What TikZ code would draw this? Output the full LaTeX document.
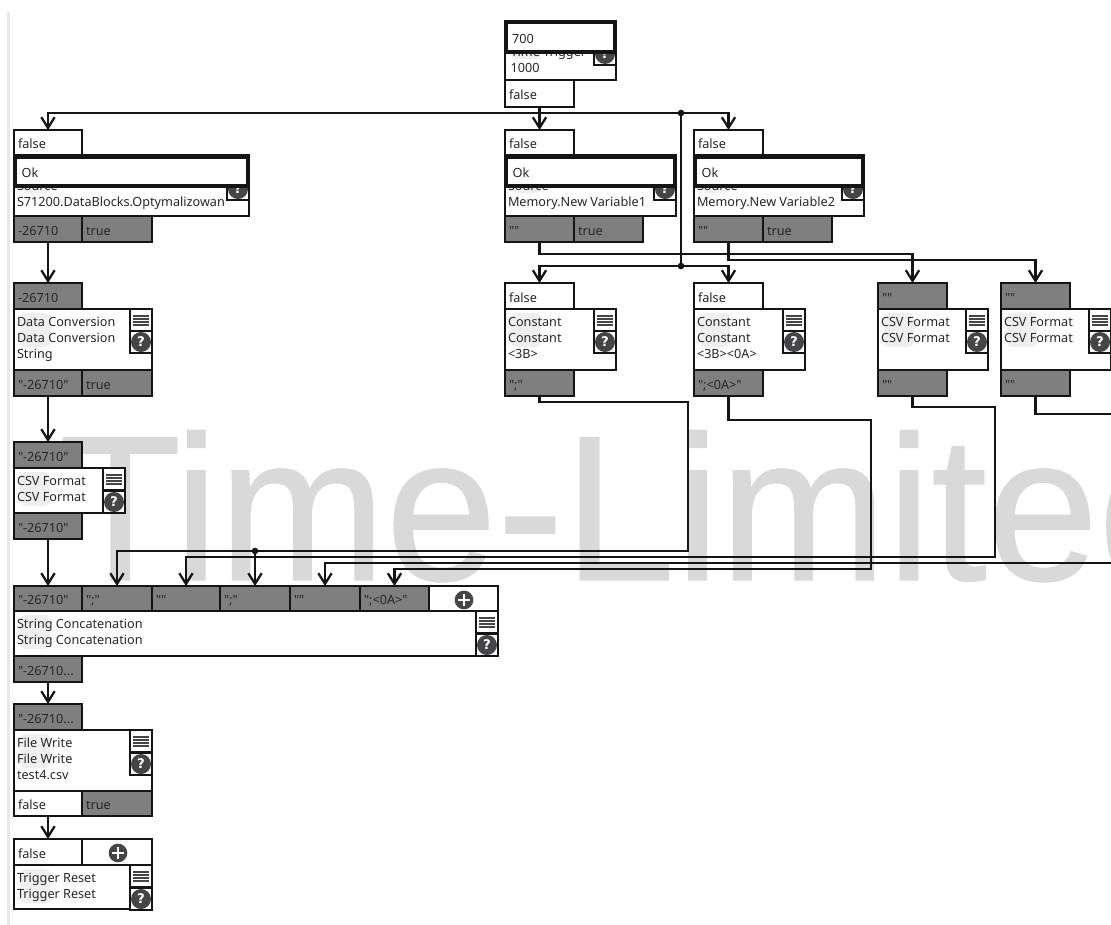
\documentclass[tikz,border=0pt]{standalone}
\usepackage{fontspec}
\newfontfamily\uifont{Noto Sans}
\newfontfamily\wmfont[FakeBold=0.6]{Liberation Sans}
\newfontfamily\hpfont{DejaVu Sans}
\usetikzlibrary{arrows.meta,calc}
\definecolor{ink}{HTML}{141414}
\definecolor{txt}{HTML}{262626}
\definecolor{portgrey}{HTML}{7F7F7F}
\definecolor{wmark}{HTML}{D9D9D9}
\definecolor{icon}{HTML}{454548}
\definecolor{ghost}{HTML}{EFEFEF}
\tikzset{
  pbox/.style={draw=ink,line width=2pt,rectangle,inner xsep=3pt,inner ysep=0pt,outer sep=0pt,
     font=\uifont\fontsize{9.5}{12}\selectfont,text=txt,text height=9pt,text depth=0pt},
  wport/.style={pbox,fill=white},
  gport/.style={pbox,fill=portgrey},
  bodybox/.style={draw=ink,line width=2pt,rectangle,fill=white,inner sep=0pt,outer sep=0pt},
  overlay/.style={pbox,fill=white,line width=3pt},
  lbl/.style={inner sep=0pt,outer sep=0pt,align=left,anchor=north west,text=txt,
     font=\uifont\fontsize{9.5}{12}\selectfont},
  hcirc/.style={circle,fill=icon,text=white,inner sep=0pt,minimum size=15pt,
     font=\hpfont\bfseries\fontsize{10}{10}\selectfont},
  pcirc/.style={circle,fill=icon,inner sep=0pt,minimum size=14pt},
  jdot/.style={circle,fill=ink,inner sep=0pt,minimum size=5pt},
  wire/.style={draw=ink,line width=1.9pt,line join=miter},
  arr/.style={wire,-{Straight Barb[length=8pt,width=10pt,line width=1.7pt]}},
  wmtext/.style={text=wmark,inner sep=0pt,outer sep=0pt,anchor=base west,
     font=\wmfont\fontsize{155}{155}\selectfont},
}
\newcommand\bx[7]{%
  \pgfmathsetmacro\bw{(#4-(#2))*0.75}%
  \pgfmathsetmacro\bh{(#5-(#3))*0.75}%
  \pgfmathsetmacro\bt{\bw-6}%
  \node[#6,minimum width=\bw pt,minimum height=\bh pt] (#1) at ({(#2+#4)/2},{(#3+#5)/2}) {\makebox[\bt pt][l]{#7}};}
\newcommand\bd[6]{%
  \pgfmathsetmacro\bw{(#4-(#2))*0.75}%
  \pgfmathsetmacro\bh{(#5-(#3))*0.75}%
  \node[bodybox,minimum width=\bw pt,minimum height=\bh pt] (#1) at ({(#2+#4)/2},{(#3+#5)/2}) {};
  \fill[ghost,rounded corners=4pt] ({#2+6},{#3+4}) rectangle ({#2+36},{#3+38});
  \node[lbl] (#1L) at ({#2+3},{#3+8}) {#6};}
\newcommand\mn[3]{%
  \bx{#1}{#2}{#3}{#2+22}{#3+22}{wport}{}
  \foreach \d in {7,10,13,16} \draw[icon,line width=.8pt] ({#2+3},{#3+\d}) -- ({#2+19},{#3+\d});}
\newcommand\hp[3]{%
  \bx{#1}{#2}{#3}{#2+22}{#3+22}{wport}{}
  \node[hcirc] (#1C) at ({#2+11},{#3+11}) {?};}
\newcommand\pl[2]{\node[pcirc] (#1) at #2 {};
  \draw[white,line width=2pt] ($(#1.center)+(-6,0)$) -- ($(#1.center)+(6,0)$);
  \draw[white,line width=2pt] ($(#1.center)+(0,-6)$) -- ($(#1.center)+(0,6)$);}
\begin{document}
\begin{tikzpicture}[x=0.75pt,y=-0.75pt]
\useasboundingbox (0,0) rectangle (1111,925);
\clip (0,0) rectangle (1111,925);
\fill[white] (0,0) rectangle (1111,925);
\fill[black!9] (7,12) rectangle (9.5,925);
\node[wmtext] (wm) at (59,580) {\scalebox{.97}[1]{Time-Limited}};

% trigger
\bd{trig}{505}{21}{616}{80}{\phantom{T}\\[2pt]\hspace{2pt}Time Trigger\\\hspace{2pt}1000}
\hp{trigH}{594}{43}
\bx{trigOv}{505.5}{22}{614.5}{52}{overlay}{\hspace{2pt}700}
\bx{trigOut}{505}{80}{574}{107}{wport}{false}

% source 1
\bx{s1In}{14}{130}{82}{155}{wport}{false}
\bd{s1}{14}{155}{249}{216}{\phantom{T}\\[2pt]Source\\S71200.DataBlocks.Optymalizowan}
\hp{s1H}{227}{178}
\bx{s1Ov}{15}{157}{248}{186}{overlay}{\hspace{2pt}Ok}
\bx{s1Out}{14}{216}{82}{242}{gport}{-26710}
\bx{s1Ok}{82}{216}{152}{242}{gport}{true}

% source 2
\bx{s2In}{505}{130}{574}{155}{wport}{false}
\bd{s2}{505}{155}{676}{216}{\phantom{T}\\[2pt]Source\\Memory.New Variable1}
\hp{s2H}{654}{178}
\bx{s2Ov}{506}{157}{675}{186}{overlay}{\hspace{2pt}Ok}
\bx{s2Out}{505}{216}{574}{242}{gport}{""}
\bx{s2Ok}{574}{216}{643}{242}{gport}{true}

% source 3
\bx{s3In}{694}{130}{763}{155}{wport}{false}
\bd{s3}{694}{155}{864}{216}{\phantom{T}\\[2pt]Source\\Memory.New Variable2}
\hp{s3H}{842}{178}
\bx{s3Ov}{695}{157}{863}{186}{overlay}{\hspace{2pt}Ok}
\bx{s3Out}{694}{216}{763}{242}{gport}{""}
\bx{s3Ok}{763}{216}{832}{242}{gport}{true}

% data conversion
\bx{dcIn}{14}{283}{82}{309}{gport}{-26710}
\bd{dc}{14}{309}{152}{370}{Data Conversion\\Data Conversion\\String}
\mn{dcM}{130}{309}\hp{dcH}{130}{331}
\bx{dcOut}{14}{370}{82}{396}{gport}{"-26710"}
\bx{dcOk}{82}{370}{152}{396}{gport}{true}

% csv left
\bx{cfIn}{14}{442}{82}{468}{gport}{"-26710"}
\bd{cf}{14}{468}{125}{513}{CSV Format\\CSV Format}
\mn{cfM}{103}{468}\hp{cfH}{103}{491}
\bx{cfOut}{14}{513}{82}{539}{gport}{"-26710"}

% constants
\bx{k1In}{505}{283}{574}{309}{wport}{false}
\bd{k1}{505}{309}{616}{370}{Constant\\Constant\\<3B>}
\mn{k1M}{594}{309}\hp{k1H}{594}{331}
\bx{k1Out}{505}{370}{574}{396}{gport}{";"}

\bx{k2In}{694}{283}{763}{309}{wport}{false}
\bd{k2}{694}{309}{805}{370}{Constant\\Constant\\<3B><0A>}
\mn{k2M}{783}{309}\hp{k2H}{783}{331}
\bx{k2Out}{694}{370}{763}{396}{gport}{";<0A>"}

% csv right
\bx{c1In}{878}{283}{947}{309}{gport}{""}
\bd{c1}{878}{309}{988}{370}{CSV Format\\CSV Format}
\mn{c1M}{966}{309}\hp{c1H}{966}{331}
\bx{c1Out}{878}{370}{947}{396}{gport}{""}

\bx{c2In}{1001}{283}{1070}{309}{gport}{""}
\bd{c2}{1001}{309}{1111}{370}{CSV Format\\CSV Format}
\mn{c2M}{1089}{309}\hp{c2H}{1089}{331}
\bx{c2Out}{1001}{370}{1070}{396}{gport}{""}

% concatenation
\bx{sc1}{14}{586}{82}{611}{gport}{"-26710"}
\bx{sc2}{82}{586}{152}{611}{gport}{";"}
\bx{sc3}{152}{586}{220}{611}{gport}{""}
\bx{sc4}{220}{586}{290}{611}{gport}{";"}
\bx{sc5}{290}{586}{360}{611}{gport}{""}
\bx{sc6}{360}{586}{429}{611}{gport}{";<0A>"}
\bx{sc7}{429}{586}{498}{611}{wport}{}
\pl{scP}{(464,600)}
\bd{sc}{14}{611}{498}{656}{String Concatenation\\String Concatenation}
\mn{scM}{476}{611}\hp{scH}{476}{634}
\bx{scOut}{14}{656}{82}{682}{gport}{"-26710...}

% file write
\bx{fwIn}{14}{704}{82}{730}{gport}{"-26710...}
\bd{fw}{14}{730}{152}{791}{File Write\\File Write\\test4.csv}
\mn{fwM}{130}{730}\hp{fwH}{130}{753}
\bx{fwOut}{14}{791}{82}{816}{wport}{false}
\bx{fwOk}{82}{791}{152}{816}{gport}{true}

% trigger reset
\bx{trIn}{14}{839}{82}{865}{wport}{false}
\bx{trAdd}{82}{839}{152}{865}{wport}{}
\pl{trP}{(118,853)}
\bd{tr}{14}{865}{152}{909}{Trigger Reset\\Trigger Reset}
\mn{trM}{130}{865}\hp{trH}{130}{888}

% junctions and free ends
\node[jdot] (jA) at (681,113) {};
\node[jdot] (jB) at (681,266) {};
\node[jdot] (jC) at (255,551) {};
\coordinate (busT) at (539.5,113);
\coordinate (offA) at (1116,414);
\coordinate (offB) at (1116,563);

% wires
\draw[wire] (trigOut.south) -- (busT);
\draw[arr] (busT) -| (s1In.north);
\draw[arr] (busT) -- (s2In.north);
\draw[arr] (busT) -| (s3In.north);
\draw[wire] (jA.center) -- (jB.center);
\draw[arr] (jB.center) -| (k1In.north);
\draw[arr] (jB.center) -| (k2In.north);
\draw[arr] (s2Out.south) -- (539.5,254) -| (c1In.north);
\draw[arr] (s3Out.south) -- (728.5,260) -| (c2In.north);
\draw[arr] (s1Out.south) -- (dcIn.north);
\draw[arr] (dcOut.south) -- (cfIn.north);
\draw[arr] (cfOut.south) -- (sc1.north);
\draw[arr] (scOut.south) -- (fwIn.north);
\draw[arr] (fwOut.south) -- (trIn.north);
\draw[wire] (k1Out.south) -- (539.5,402) -- (688,402) -- (688,551) -- (jC.center);
\draw[arr] (jC.center) -| (sc2.north);
\draw[arr] (jC.center) -- (sc4.north);
\draw[arr] (k2Out.south) -- (728.5,420) -- (871,420) -- (871,569) -| (sc6.north);
\draw[arr] (c1Out.south) -- (912.5,407) -- (995,407) -- (995,557) -| (sc3.north);
\draw[wire] (c2Out.south) -- (1035.5,414) -- (offA);
\draw[arr] (offB) -| (sc5.north);
\end{tikzpicture}
\end{document}
